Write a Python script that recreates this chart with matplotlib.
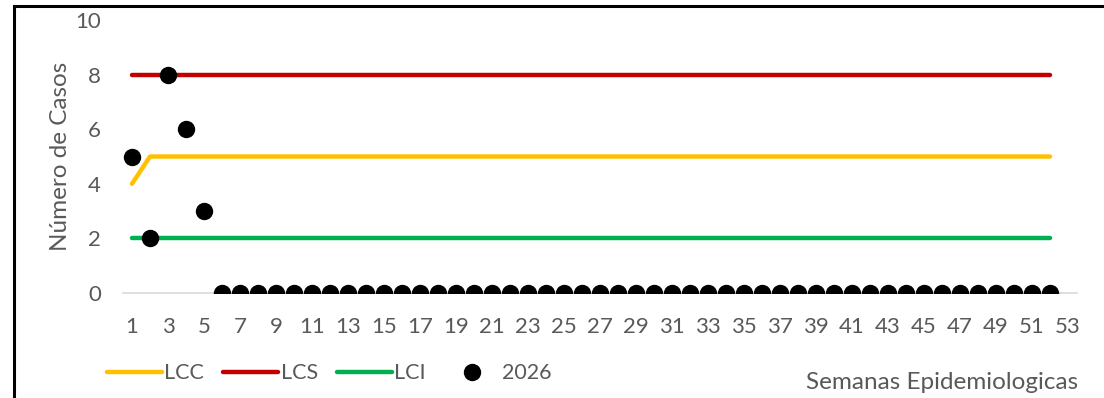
import matplotlib
matplotlib.use("Agg")
import matplotlib.pyplot as plt
from matplotlib.lines import Line2D
from matplotlib.patches import Rectangle

plt.rcParams['font.family'] = ['Lato', 'DejaVu Sans']

weeks = list(range(1, 53))
lcc = [4] + [5] * 51          # límite central
lcs = [8] * 52                # límite superior
lci = [2] * 52                # límite inferior
cases_2026 = [5, 2, 8, 6, 3] + [0] * 47

x_ticks = list(range(1, 54, 2))
y_ticks = [0, 2, 4, 6, 8, 10]

C_LCC = "#FFC000"
C_LCS = "#C00000"
C_LCI = "#00B050"
TXT = "#595959"

fig = plt.figure(figsize=(11.04, 3.98), dpi=100)
ax = fig.add_axes([0.1114, 0.2638, 0.8641, 0.6859])

lw = 3.2
ax.plot(weeks, lcc, color=C_LCC, lw=lw, solid_capstyle='round', zorder=2)
ax.plot(weeks, lcs, color=C_LCS, lw=lw, solid_capstyle='round', zorder=2)
ax.plot(weeks, lci, color=C_LCI, lw=lw, solid_capstyle='round', zorder=2)
ax.plot(weeks, cases_2026, 'o', color='black', ms=11.5, zorder=3)

ax.set_xlim(0.5, 53.5)
ax.set_ylim(0, 10)
ax.set_xticks(x_ticks)
ax.set_yticks(y_ticks)
ax.tick_params(length=0, labelsize=16, colors=TXT)
ax.tick_params(axis='x', pad=17)
ax.tick_params(axis='y', pad=16)
for s in ['top', 'right', 'left']:
    ax.spines[s].set_visible(False)
ax.spines['bottom'].set_color('#D9D9D9')
ax.spines['bottom'].set_linewidth(1.2)
ax.spines['bottom'].set_zorder(1)

ax.set_ylabel("Número de Casos", fontsize=17.5, color=TXT, labelpad=3)
fig.text(0.977, 0.04, "Semanas Epidemiologicas", ha='right', va='center',
         fontsize=17.5, color=TXT)

handles = [
    Line2D([], [], color=C_LCC, lw=lw, solid_capstyle='round'),
    Line2D([], [], color=C_LCS, lw=lw, solid_capstyle='round'),
    Line2D([], [], color=C_LCI, lw=lw, solid_capstyle='round'),
    Line2D([], [], ls='', marker='o', color='black', ms=11.5),
]
leg = fig.legend(handles, ["LCC", "LCS", "LCI", "2026"], loc='center left',
                 bbox_to_anchor=(0.087, 0.062), ncol=4, frameon=False,
                 fontsize=15.5, handlelength=2.55, handletextpad=0.12,
                 columnspacing=0.88, borderpad=0.0)
for t in leg.get_texts():
    t.set_color(TXT)

# chart frame
fig.patches.append(Rectangle((14 / 1104, -0.1), 1.2, 1 - 6 / 398 + 0.1,
                             transform=fig.transFigure, fill=False,
                             edgecolor='black', lw=2.2, zorder=10))

fig.savefig("out.png", dpi=100)
